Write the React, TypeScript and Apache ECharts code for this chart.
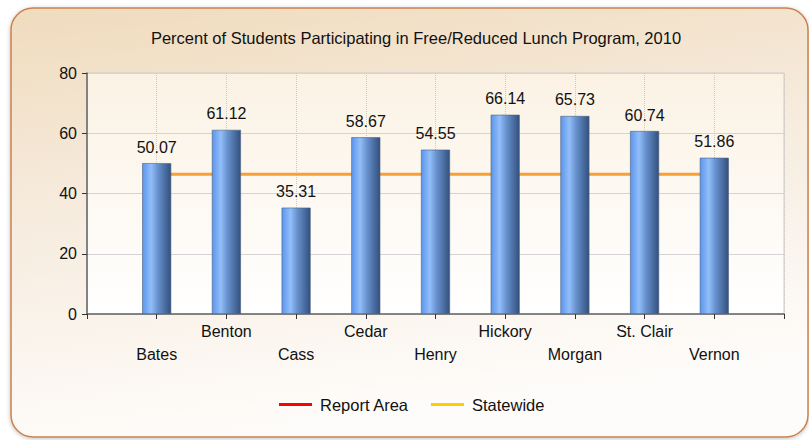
import React, { useEffect, useRef } from "react";
import * as echarts from "echarts";

const titleText = "Percent of Students Participating in Free/Reduced Lunch Program, 2010";
const counties = ["Bates", "Benton", "Cass", "Cedar", "Henry", "Hickory", "Morgan", "St. Clair", "Vernon"];
const reportArea = [50.07, 61.12, 35.31, 58.67, 54.55, 66.14, 65.73, 60.74, 51.86];
const statewide = 46.4;
const yTicks = [0, 20, 40, 60, 80];

const FONT = "'Liberation Sans', Arial, sans-serif";

export default function App() {
  const ref = useRef<HTMLDivElement>(null);
  useEffect(() => {
    if (!ref.current) return;
    const chart = echarts.init(ref.current, null, { renderer: "svg" });
    const cats = ["", ...counties, ""];
    const barData = [null, ...reportArea, null];
    const lineData = [null, ...counties.map(() => statewide), null];
    chart.setOption({
      animation: false,
      graphic: [
        {
          type: "rect",
          z: -10,
          shape: { x: 11, y: 8, width: 797, height: 429, r: 22 },
          style: {
            fill: new echarts.graphic.LinearGradient(0, 0, 0.25, 1, [
              { offset: 0, color: "#f0dbbd" },
              { offset: 0.45, color: "#f6ebdd" },
              { offset: 1, color: "#fefcfa" },
            ]),
            stroke: "#c9824f",
            lineWidth: 1.5,
            shadowBlur: 4,
            shadowColor: "rgba(0,0,0,0.25)",
            shadowOffsetY: 1,
          },
        },
      ],
      title: {
        text: titleText,
        left: 416,
        top: 29,
        textAlign: "center",
        padding: 0,
        textStyle: { fontFamily: FONT, fontSize: 16.5, fontWeight: "normal", color: "#111" },
      },
      legend: {
        left: 279,
        top: 396,
        padding: 0,
        icon: "rect",
        itemWidth: 33,
        itemHeight: 3,
        itemGap: 22,
        textStyle: { fontFamily: FONT, fontSize: 16.5, color: "#111", padding: [0, 0, 0, 3] },
        data: [
          { name: "Report Area", itemStyle: { color: "#ff0000", borderWidth: 0, decal: "none" } },
          { name: "Statewide", itemStyle: { color: "#ffcc00", borderWidth: 0 } },
        ],
      },
      grid: {
        left: 87,
        right: 25,
        top: 73,
        bottom: 126,
        show: true,
        borderColor: "#cccccc",
        borderWidth: 1,
        backgroundColor: new echarts.graphic.LinearGradient(0, 0, 0, 1, [
          { offset: 0, color: "#fbf2e4" },
          { offset: 1, color: "#ffffff" },
        ]),
      },
      xAxis: {
        type: "category",
        data: cats,
        boundaryGap: false,
        axisLine: { show: true, lineStyle: { color: "#666", width: 1.5 } },
        axisTick: { show: true, length: 5, interval: 0, lineStyle: { color: "#333" } },
        axisLabel: {
          interval: 0,
          margin: 6,
          fontFamily: FONT,
          fontSize: 16,
          color: "#111",
          lineHeight: 23,
          hideOverlap: false,
          formatter: (v: string, i: number) => (i % 2 === 1 ? "\n" + v : v),
        },
        splitLine: { show: true, interval: 0, lineStyle: { color: "#c8c8c8", type: "dotted" } },
      },
      yAxis: {
        type: "value",
        min: 0,
        max: 80,
        interval: 20,
        axisLine: { show: true, lineStyle: { color: "#666", width: 1.5 } },
        axisTick: { show: true, length: 5, lineStyle: { color: "#333" } },
        axisLabel: {
          margin: 10,
          fontFamily: FONT,
          fontSize: 16,
          color: "#111",
          formatter: (v: number) => (yTicks.includes(v) ? String(v) : ""),
        },
        splitLine: { show: true, lineStyle: { color: "#d4d4d4" } },
      },
      series: [
        {
          name: "Statewide",
          type: "line",
          data: lineData,
          z: 1,
          symbol: "none",
          lineStyle: { color: "#f7a033", width: 3 },
          itemStyle: { color: "#f7a033" },
          connectNulls: false,
        },
        {
          name: "Report Area",
          type: "bar",
          data: barData,
          z: 3,
          barWidth: 29,
          itemStyle: {
            color: new echarts.graphic.LinearGradient(0, 0, 1, 0, [
              { offset: 0, color: "#5b95ec" },
              { offset: 0.3, color: "#92bef9" },
              { offset: 0.55, color: "#6690cc" },
              { offset: 1, color: "#33507e" },
            ]),
            borderColor: "#4a5f80",
            borderWidth: 0.6,
          },
          label: {
            show: true,
            position: "top",
            distance: 8,
            fontFamily: FONT,
            fontSize: 16,
            color: "#111",
            formatter: (p: any) => (p.value == null ? "" : Number(p.value).toFixed(2)),
          },
        },
      ],
    });
    return () => chart.dispose();
  }, []);
  return (
    <div
      ref={ref}
      style={{ position: "fixed", left: 0, top: 0, width: 809, height: 440, background: "#ffffff" }}
    />
  );
}
